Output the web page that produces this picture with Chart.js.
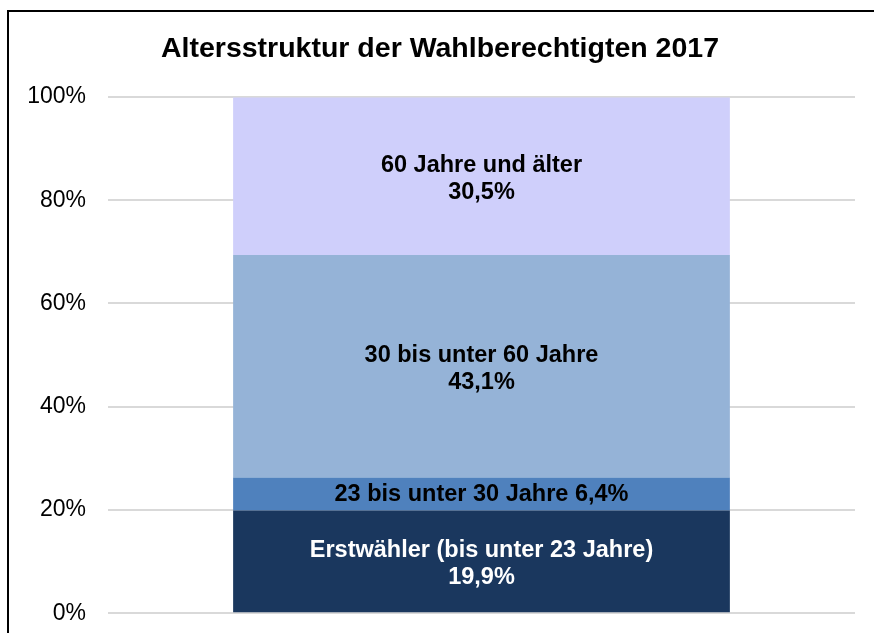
<!DOCTYPE html>
<html lang="de">
<head>
<meta charset="utf-8">
<title>Altersstruktur der Wahlberechtigten 2017</title>
<script src="https://cdn.jsdelivr.net/npm/chart.js@4/dist/chart.umd.min.js"></script>
<style>
    html, body { margin: 0; padding: 0; background: #ffffff; overflow: hidden; }
    #page { position: relative; width: 874px; height: 633px; overflow: hidden; }
    #frame {
        position: absolute; left: 7px; top: 10px;
        width: 900px; height: 700px;
        border: 2px solid #000000;
    }
    #wrap { position: absolute; left: 0; top: 0; width: 874px; height: 649px; }
</style>
</head>
<body>
<div id="page">
    <div id="frame"></div>
    <div id="wrap"><canvas id="ageChart" width="874" height="649"></canvas></div>
</div>
<script>
// ====================================================
// Data
// ====================================================
const chartTitle = 'Altersstruktur der Wahlberechtigten 2017';
const categories = ['2017'];
const groupNames = ['Erstwähler (bis unter 23 Jahre)', '23 bis unter 30 Jahre', '30 bis unter 60 Jahre', '60 Jahre und älter'];
const groupShares = [19.9, 6.4, 43.1, 30.5];
const groupLabels = [
    ['Erstwähler (bis unter 23 Jahre)', '19,9%'],
    ['23 bis unter 30 Jahre 6,4%'],
    ['30 bis unter 60 Jahre', '43,1%'],
    ['60 Jahre und älter', '30,5%']
];
const tickValues = [0, 20, 40, 60, 80, 100];

const groupColors = ['#1a375e', '#4f81bd', '#95b3d7', '#cfcffb'];
const labelColors = ['#ffffff', '#000000', '#000000', '#000000'];
const fontFamily = '"Liberation Sans", Arial, sans-serif';

// ====================================================
// Title + segment labels (drawn on the chart canvas)
// ====================================================
const textOverlay = {
    id: 'textOverlay',
    afterDatasetsDraw(chart) {
        const ctx = chart.ctx;
        ctx.save();
        ctx.textAlign = 'center';
        ctx.textBaseline = 'middle';

        // title
        ctx.font = 'bold 28.5px ' + fontFamily;
        ctx.fillStyle = '#000000';
        ctx.fillText(chartTitle, 440, 49);

        // labels centred in each stacked segment
        ctx.font = 'bold 23.5px ' + fontFamily;
        chart.data.datasets.forEach((ds, i) => {
            const bar = chart.getDatasetMeta(i).data[0];
            if (!bar) return;
            const lines = groupLabels[i];
            const lineH = 27;
            const cy = (bar.y + bar.base) / 2 + (lines.length > 1 ? 3 : 1);
            const start = cy - (lines.length - 1) * lineH / 2;
            ctx.fillStyle = labelColors[i];
            lines.forEach((t, k) => ctx.fillText(t, bar.x, start + k * lineH));
        });
        ctx.restore();
    }
};

// ====================================================
// Chart
// ====================================================
new Chart(document.getElementById('ageChart'), {
    type: 'bar',
    data: {
        labels: categories,
        datasets: groupNames.map((name, i) => ({
            label: name,
            data: [groupShares[i]],
            backgroundColor: groupColors[i],
            borderWidth: 0,
            barPercentage: 1,
            categoryPercentage: 0.665
        }))
    },
    options: {
        responsive: false,
        animation: false,
        layout: { padding: { left: 0, right: 19, top: 97, bottom: 0 } },
        plugins: {
            legend: { display: false },
            tooltip: { enabled: false },
            title: { display: false }
        },
        scales: {
            x: {
                stacked: true,
                display: false
            },
            y: {
                stacked: true,
                min: 0,
                max: 100,
                afterBuildTicks: (scale) => { scale.ticks = tickValues.map(v => ({ value: v })); },
                afterFit: (scale) => { scale.width = 108; },
                border: { display: false },
                grid: { color: '#d9d9d9', lineWidth: 2, drawTicks: false },
                ticks: {
                    color: '#000000',
                    padding: 22,
                    font: { family: fontFamily, size: 23 },
                    callback: (v) => v + '%'
                }
            }
        }
    },
    plugins: [textOverlay]
});
</script>
</body>
</html>
